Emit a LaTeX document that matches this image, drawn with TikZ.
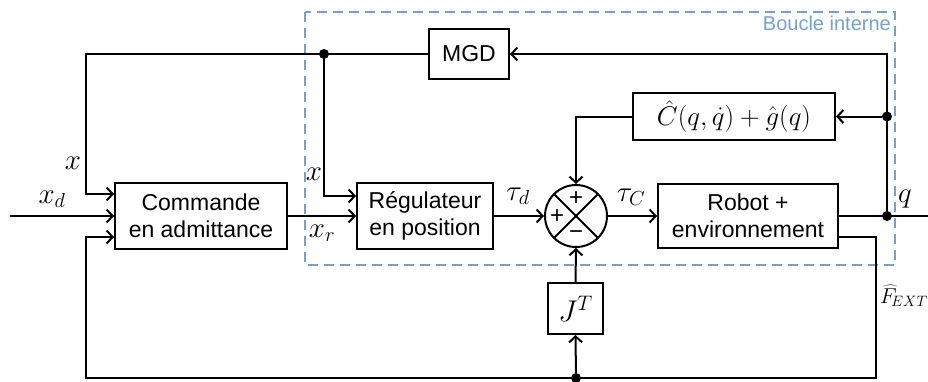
\RequirePackage{fix-cm}
\documentclass[tikz,border=0pt]{standalone}
\usepackage{fontspec}
\setmainfont{Liberation Sans}
\usetikzlibrary{arrows.meta}
\definecolor{boxblue}{RGB}{118,160,205}
\begin{document}
\begin{tikzpicture}[x=1pt,y=-1pt,
  blk/.style={draw,line width=2pt,inner sep=0pt,font=\fontsize{23}{27}\selectfont,align=center},
  wire/.style={line width=2pt},
  arr/.style={wire,-{Straight Barb[length=6pt,width=13pt,line width=2pt]}},
  jdot/.style={circle,fill,inner sep=0pt,minimum size=10pt},
  lbl/.style={inner sep=0pt,font=\fontsize{29}{33}\selectfont},
  sgn/.style={inner sep=0pt,font=\fontsize{24}{28}\selectfont}
]
\useasboundingbox (0,0) rectangle (928,381);
% inner loop frame
\draw[boxblue,line width=1.4pt,dash pattern=on 10pt off 6pt] (305,12) rectangle (895,265);
\node[text=boxblue,font=\fontsize{20}{24}\selectfont,anchor=east,inner sep=0pt] (bi) at (891,23) {Boucle interne};
% blocks
\node[blk,minimum width=172pt,minimum height=66pt] (cmd) at (201,216) {Commande\\en admittance};
\node[blk,minimum width=136pt,minimum height=66pt] (reg) at (425,216) {Régulateur\\en position};
\node[blk,minimum width=180pt,minimum height=64pt] (rob) at (748,216) {Robot +\\environnement};
\node[blk,minimum width=80pt,minimum height=50pt] (mgd) at (469,54) {MGD};
\node[blk,minimum width=202pt,minimum height=47pt,font=\fontsize{27}{31}\selectfont] (chat) at (734,116.5) {$\hat{C}(q,\dot{q})+\hat{g}(q)$};
\node[blk,minimum width=55pt,minimum height=51pt,font=\fontsize{30}{34}\selectfont] (jt) at (575.5,308.5) {$J^T$};
\node[draw,circle,line width=2pt,minimum size=62pt,inner sep=0pt] (sum) at (576,216) {};
\draw[wire] (sum.north west) -- (sum.south east);
\draw[wire] (sum.north east) -- (sum.south west);
\node[sgn] (sp1) at (576,199) {+};
\node[sgn] (sp2) at (557,217) {+};
\node[sgn] (sm) at (576,235) {−};
% junctions
\node[jdot] (xdot) at (324,54) {};
\node[jdot] (cdot) at (887,116.5) {};
\node[jdot] (qdot) at (887,216) {};
\node[jdot] (bdot) at (576,378) {};
\coordinate (rtop) at (887,54);
\coordinate (ltop) at (86,54);
\coordinate (xdin) at (10,216);
\coordinate (qout) at (928,216);
\coordinate (fc) at (876,378);
\coordinate (bl) at (86,378);
% connectors
\draw[arr] (xdin) -- (cmd.west);
\draw[arr] (qdot) -- (rtop) -- (mgd.east);
\draw[arr] (mgd.west) -- (ltop) |- ([yshift=22pt]cmd.west);
\draw[arr] (xdot) |- ([yshift=20pt]reg.west);
\draw[arr] (cmd.east) -- (reg.west);
\draw[arr] (reg.east) -- (sum.west);
\draw[arr] (sum.east) -- (rob.west);
\draw[wire] (rob.east) -- (qout);
\draw[wire] (qdot) -- (cdot);
\draw[arr] (cdot) -- (chat.east);
\draw[arr] (chat.west) -| (sum.north);
\draw[arr] ([yshift=-21pt]rob.east) -| (fc) -- (bl) |- ([yshift=-21pt]cmd.west);
\draw[arr] (bdot) -- (jt.south);
\draw[arr] (jt.north) -- (sum.south);
% labels
\node[lbl] (lx1) at (73,163) {$x$};
\node[lbl] (lxd) at (52,199) {$x_d$};
\node[lbl] (lx2) at (314,174) {$x$};
\node[lbl] (lxr) at (322,233) {$x_r$};
\node[lbl] (ltd) at (518,196) {$\tau_d$};
\node[lbl] (ltc) at (631,197) {$\tau_C$};
\node[lbl] (lq) at (905,199) {$q$};
\node[lbl,anchor=west,font=\fontsize{21.5}{25}\selectfont] (lf) at (880,296) {$\widehat{F}_{\!EXT}$};
\end{tikzpicture}
\end{document}
